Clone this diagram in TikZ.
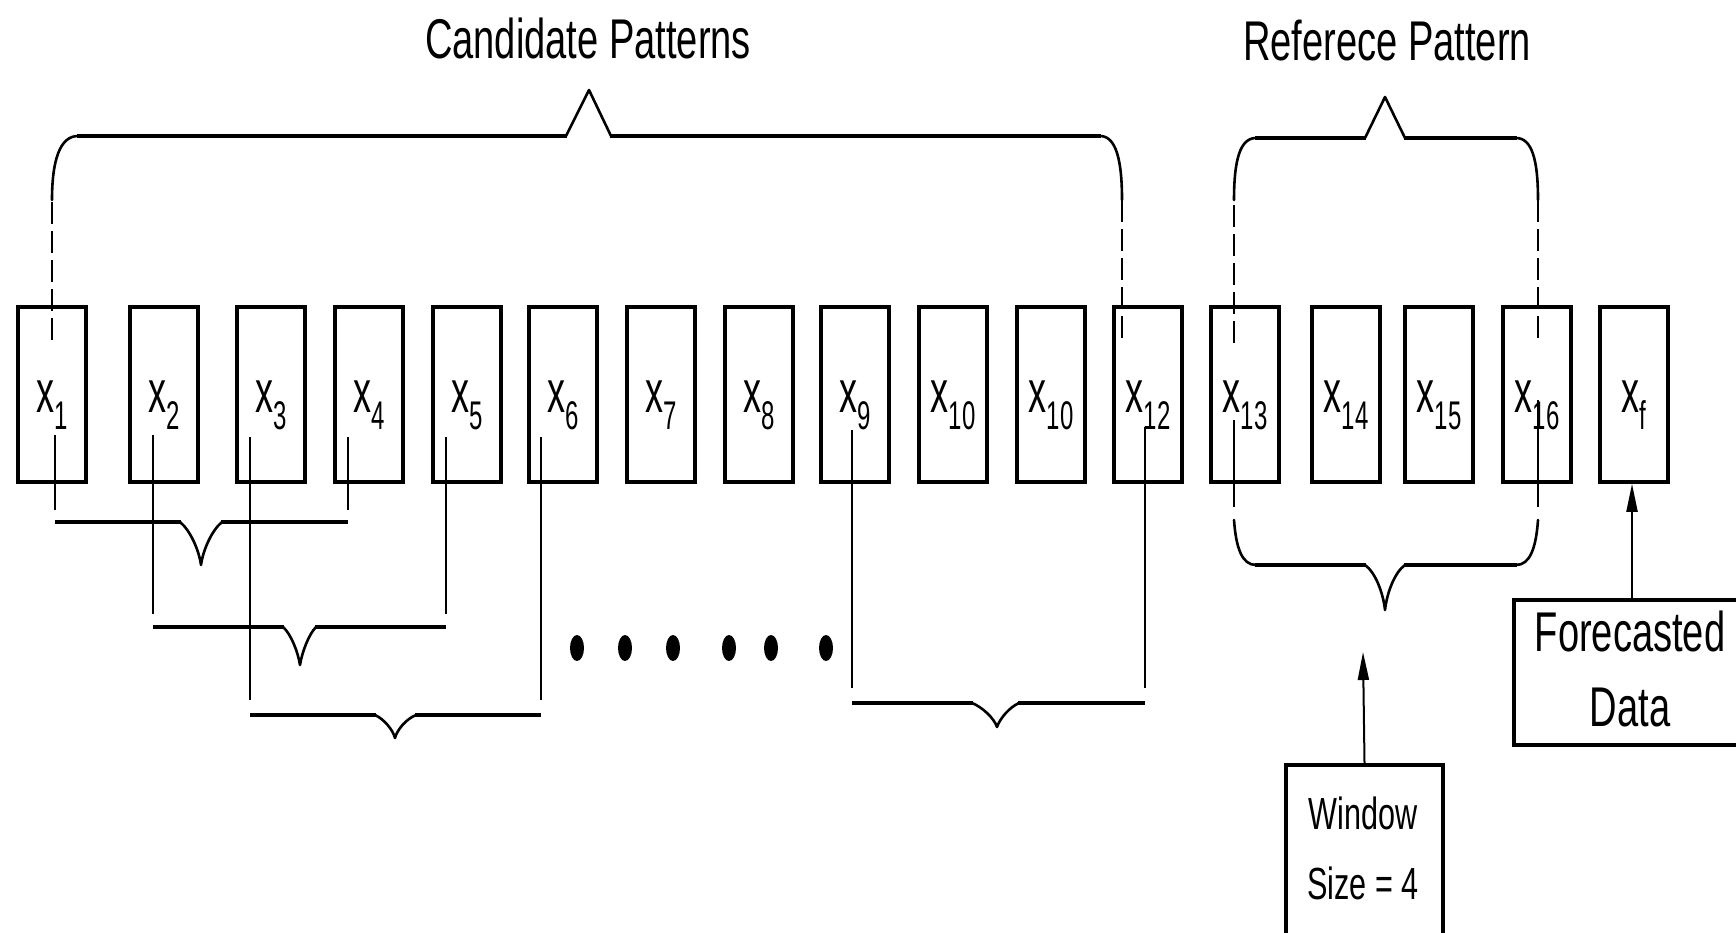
\documentclass[tikz,border=0pt]{standalone}
\usepackage{fontspec}
\setmainfont{Liberation Sans}
\newfontfamily\tfont{Liberation Sans}[FakeStretch=0.68]
\newfontfamily\lfont{Liberation Sans}[FakeStretch=0.6]
\usetikzlibrary{arrows.meta}
\newcommand\xlab[1]{\raisebox{-17.5pt}[0pt][0pt]{\lfont\fontsize{60}{60}\selectfont x\raisebox{-17pt}{\fontsize{40}{40}\selectfont #1}}}
\begin{document}
\begin{tikzpicture}[x=1pt,y=-1pt,
  cell/.style={draw=black, line width=3.5pt, fill=white, minimum width=68pt, minimum height=175pt, inner sep=0pt},
  bar/.style={line width=4.5pt, line cap=butt},
  thin/.style={line width=2.6pt, line cap=round, line join=round},
  tie/.style={line width=2.5pt},
  dashline/.style={line width=2.5pt, dash pattern=on 22pt off 7pt},
  arr/.style={line width=2pt, -{Triangle[length=28pt,width=11pt]}},
  title/.style={font=\tfont\fontsize{56}{56}\selectfont, inner sep=0pt},
  wtext/.style={font=\tfont\fontsize{45}{45}\selectfont, inner sep=0pt},
  ftext/.style={font=\tfont\fontsize{56}{56}\selectfont, inner sep=0pt},
  textbox/.style={draw=black, line width=4pt, fill=white, inner sep=0pt, anchor=north west}]
\path[use as bounding box, clip] (0,0) rectangle (1736,933);
\fill[white] (0,0) rectangle (1736,933);

% titles
\node[title] (tc) at (588,38) {Candidate Patterns};
\node[title] (tr) at (1387,41) {Referece Pattern};

% cells
\foreach \c/\n/\s in {52/b1/1,164/b2/2,271/b3/3,369/b4/4,467/b5/5,563/b6/6,661/b7/7,759/b8/8,855/b9/9,953/b10/10,1051/b11/10,1148/b12/12,1245/b13/13,1346/b14/14,1439/b15/15,1537/b16/16,1634/b17/f}
  \node[cell] (\n) at (\c,394.5) {\xlab{\s}};

% candidate top brace
\draw[dashline] (52,340) -- (52,200);
\draw[thin] (52,200) .. controls (52,160) and (60,136) .. (78,136);
\draw[bar] (77,136) -- (567,136);
\draw[thin] (566,136) -- (589,90) -- (611,136);
\draw[bar] (610,136) -- (1101,136);
\draw[thin] (1100,136) .. controls (1116,136) and (1122,160) .. (1122,200);
\draw[dashline] (1122,200) -- (1122,340);

% reference top brace
\draw[dashline] (1234,343) -- (1234,200);
\draw[thin] (1234,200) .. controls (1234,160) and (1240,138) .. (1256,138);
\draw[bar] (1255,138) -- (1366,138);
\draw[thin] (1365,138) -- (1385,97) -- (1405,138);
\draw[bar] (1404,138) -- (1517,138);
\draw[thin] (1516,138) .. controls (1532,138) and (1538,160) .. (1538,200);
\draw[dashline] (1538,200) -- (1538,343);

% reference bottom brace
\draw[tie] (1234,420) -- (1234,507);
\draw[tie] (1538,400) -- (1538,507);
\draw[thin] (1234,520) .. controls (1236,548) and (1242,565) .. (1256,565);
\draw[bar] (1255,565) -- (1366,565);
\draw[thin] (1365,565) .. controls (1375,572) and (1383,592) .. (1385,610) .. controls (1387,592) and (1395,572) .. (1405,565);
\draw[bar] (1404,565) -- (1517,565);
\draw[thin] (1516,565) .. controls (1530,565) and (1536,548) .. (1538,520);

% candidate braces below
\draw[tie] (55,435) -- (55,510);
\draw[tie] (348,437) -- (348,510);
\draw[bar] (55,522) -- (181,522);
\draw[thin] (180,522) .. controls (190,530) and (199,550) .. (201,565) .. controls (203,550) and (212,530) .. (222,522);
\draw[bar] (221,522) -- (348,522);

\draw[tie] (153,435) -- (153,614);
\draw[tie] (446,437) -- (446,614);
\draw[bar] (153,627) -- (284,627);
\draw[thin] (283,627) .. controls (291,634) and (298,652) .. (300,665) .. controls (302,652) and (309,634) .. (316,627);
\draw[bar] (315,627) -- (446,627);

\draw[tie] (250,437) -- (250,700);
\draw[tie] (541,437) -- (541,700);
\draw[bar] (250,715) -- (376,715);
\draw[thin] (375,715) .. controls (384,719) and (393,730) .. (395,738) .. controls (397,730) and (406,719) .. (416,715);
\draw[bar] (415,715) -- (541,715);

\draw[tie] (852,430) -- (852,688);
\draw[tie] (1145,427) -- (1145,688);
\draw[bar] (852,703) -- (973,703);
\draw[thin] (972,703) .. controls (982,707) and (994,718) .. (997,727) .. controls (1000,718) and (1010,707) .. (1019,703);
\draw[bar] (1018,703) -- (1145,703);

% dots
\foreach \d in {577,625,673,729,771,826}
  \fill[black] (\d,648) ellipse [x radius=7pt, y radius=13pt];

% window size box
\node[textbox, minimum width=157pt, minimum height=200pt] (win) at (1284,763) {};
\node[wtext] (w1) at (1363,813) {Window};
\node[wtext] (w2) at (1363,883) {Size = 4};
\coordinate (wtip) at (1363,652);
\draw[arr] (win.north) -- (wtip);

% forecasted data box
\node[textbox, minimum width=236pt, minimum height=145pt] (fc) at (1512,598) {};
\node[ftext] (f1) at (1630,631) {Forecasted};
\node[ftext] (f2) at (1630,708) {Data};
\draw[arr] (fc.north) -- (fc.north |- b17.south);
\end{tikzpicture}
\end{document}
